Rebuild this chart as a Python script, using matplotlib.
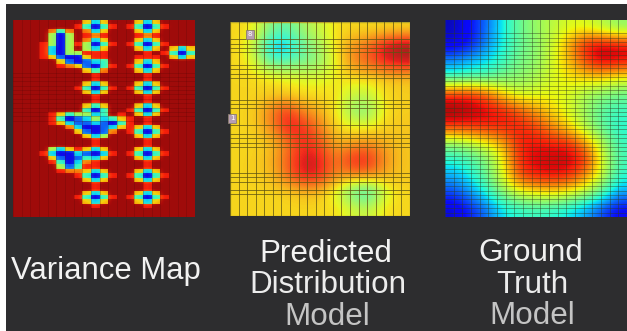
import numpy as np
from matplotlib import pyplot as plt
from matplotlib.patches import Rectangle

W, H = 627, 331

# variance map: one digit per cell, 0 = blue ... 9 = dark red (21 columns, 45 rows)
variance_rows = [
    "9999 999 9 636 9 9 9 636 9 999",
    "9999 999 8 414 8 9 8 414 8 999",
    "9999 747 9 736 9 9 9 636 9 999",
    "9999 515 9 878 9 9 9 878 9 999",
    "9999 515 9 736 9 9 9 636 9 999",
    "9998 515 8 514 8 9 8 414 8 999",
    "9998 315 9 536 9 9 9 636 9 636",
    "9998 315 5 888 9 9 9 989 8 414",
    "9998 621 1 688 9 9 9 888 9 636",
    "9999 962 1 234 9 9 9 636 9 999",
    "9999 987 6 214 8 9 8 414 8 999",
    "9999 999 9 647 9 9 9 636 9 999",
    "9999 999 9 989 9 9 9 989 9 999",
    "9999 999 9 989 9 9 9 989 9 999",
    "9999 999 9 636 9 9 9 636 9 999",
    "9999 999 8 414 8 9 8 414 8 999",
    "9999 999 9 636 9 9 9 636 9 999",
    "9999 999 9 989 9 9 9 989 9 999",
    "9999 999 9 989 9 9 9 989 9 999",
    "9999 999 9 646 9 9 9 636 9 999",
    "9999 999 9 414 9 9 8 414 8 999",
    "9999 864 5 534 9 8 9 636 9 999",
    "9999 841 2 353 4 6 8 989 9 999",
    "9999 863 2 232 1 4 8 989 9 999",
    "9999 997 3 112 3 6 8 636 9 999",
    "9999 999 6 212 7 9 8 414 8 999",
    "9999 999 9 635 9 9 9 636 9 999",
    "9999 999 9 989 9 9 9 989 9 999",
    "9999 999 9 989 9 9 9 989 9 999",
    "9999 536 8 636 9 9 9 636 9 999",
    "9998 311 3 213 8 9 8 414 8 999",
    "9999 621 2 436 9 9 9 636 9 999",
    "9999 841 3 789 9 9 9 989 9 999",
    "9999 952 4 889 9 9 9 989 9 999",
    "9999 987 7 636 9 9 9 636 9 999",
    "9999 999 8 414 8 9 8 414 8 999",
    "9999 999 9 636 9 9 9 636 9 999",
    "9999 999 9 989 9 9 9 989 9 999",
    "9999 999 9 989 9 9 9 989 9 999",
    "9999 999 9 636 9 9 9 636 9 999",
    "9999 999 8 414 8 9 8 414 8 999",
    "9999 999 9 636 9 9 9 636 9 999",
    "9999 999 9 989 9 9 9 989 9 999",
    "9999 999 9 999 9 9 9 999 9 999",
    "9999 999 9 999 9 9 9 999 9 999",
]
# position on the jet scale for each digit above
variance_levels = [0.0, 0.10, 0.22, 0.34, 0.41, 0.55, 0.69, 0.78, 0.88, 0.97]

predicted = [
    [.63, .60, .44, .40, .50, .55, .62, .63, .62, .63, .63],
    [.63, .53, .24, .24, .40, .49, .62, .72, .78, .90, .96],
    [.63, .57, .40, .40, .44, .46, .60, .73, .78, .86, .88],
    [.63, .63, .62, .60, .58, .58, .60, .62, .62, .64, .65],
    [.63, .63, .64, .64, .62, .62, .62, .54, .54, .63, .64],
    [.63, .64, .74, .84, .72, .68, .60, .46, .44, .62, .64],
    [.63, .64, .72, .87, .85, .74, .63, .60, .60, .64, .65],
    [.63, .63, .65, .74, .85, .80, .67, .70, .72, .68, .65],
    [.63, .64, .67, .78, .88, .87, .74, .86, .86, .72, .65],
    [.63, .64, .66, .76, .88, .86, .72, .74, .74, .68, .65],
    [.63, .63, .63, .64, .66, .66, .56, .38, .30, .56, .63],
    [.63, .63, .63, .63, .63, .63, .62, .56, .54, .62, .63],
]

ground_truth = [
    [.05, .12, .22, .36, .46, .52, .56, .60, .60, .55, .50],
    [.08, .12, .25, .36, .45, .50, .58, .72, .88, .91, .89],
    [.25, .30, .34, .40, .48, .50, .60, .68, .82, .92, .89],
    [.40, .42, .42, .48, .50, .54, .60, .64, .66, .66, .62],
    [.84, .85, .80, .66, .58, .60, .62, .60, .54, .50, .47],
    [.96, .93, .89, .87, .80, .72, .65, .60, .52, .44, .40],
    [.84, .85, .86, .86, .86, .82, .74, .65, .54, .44, .38],
    [.50, .55, .62, .70, .86, .87, .86, .86, .72, .56, .40],
    [.38, .42, .48, .62, .86, .89, .91, .91, .86, .60, .42],
    [.28, .36, .46, .60, .82, .87, .88, .86, .74, .58, .38],
    [.18, .26, .38, .50, .60, .64, .66, .62, .56, .45, .28],
    [.07, .14, .22, .34, .38, .40, .38, .34, .28, .18, .10],
]

# rows of the mesh where the predicted panel has its dark horizontal lines
predicted_lines = [4, 5, 6, 7, 10, 11, 12, 13, 18, 19, 20, 24, 26, 27, 28, 29, 35, 36, 37, 39, 40]
variance_lines = [12, 13, 14, 15, 16, 17, 18, 19, 20, 21, 22, 23]

labels = [
    ("Variance Map", 106, 271, "#f2f2f2", 22.3),
    ("Predicted", 326, 254, "#f2f2f2", 22.6),
    ("Distribution", 328, 285, "#ececec", 22.6),
    ("Model", 327, 317, "#c4c4c4", 22.6),
    ("Ground", 531, 253, "#f0f0f0", 22.6),
    ("Truth", 532, 285, "#ececec", 22.6),
    ("Model", 532, 316, "#c4c4c4", 22.6),
]

N_COLS, N_ROWS = 21, 45


def panel(fig, x0, y0, x1, y1):
    ax = fig.add_axes([x0 / W, 1 - y1 / H, (x1 - x0) / W, (y1 - y0) / H])
    ax.axis("off")
    return ax


def mesh(ax, rows, color, alpha, lw, verticals=True):
    if verticals:
        for c in range(N_COLS + 1):
            ax.plot([c / N_COLS] * 2, [0, 1], color=color, alpha=alpha, lw=lw, transform=ax.transAxes)
    for r in rows:
        ax.plot([0, 1], [1 - r / N_ROWS] * 2, color=color, alpha=alpha, lw=lw, transform=ax.transAxes)


def wash(ax, color, alpha):
    ax.add_patch(Rectangle((0, 0), 1, 1, fc=color, ec="none", alpha=alpha, transform=ax.transAxes))


fig = plt.figure(figsize=(W / 100, H / 100), dpi=100, facecolor="white")
bg = panel(fig, 6, 4, W, H)
bg.add_patch(Rectangle((0, 0), 1, 1, color="#2d2d2f", transform=bg.transAxes))

levels = np.array(variance_levels)
variance = np.array([[levels[int(ch)] for ch in row.replace(" ", "")] for row in variance_rows])
ax1 = panel(fig, 13, 20, 195, 217)
# blocky cells over a smoothed copy, the source frame is a little soft
ax1.imshow(variance, cmap="jet", vmin=0, vmax=1, aspect="auto", interpolation="bilinear")
ax1.imshow(variance, cmap="jet", vmin=0, vmax=1, aspect="auto", interpolation="nearest", alpha=0.8)
wash(ax1, "#a09080", 0.08)
mesh(ax1, [], "#5a0808", 0.3, 0.6)
mesh(ax1, variance_lines, "#4a0505", 0.3, 0.5, verticals=False)

ax2 = panel(fig, 230, 22, 410, 216)
ax2.imshow(predicted, cmap="jet", vmin=-0.05, vmax=0.95, aspect="auto", interpolation="bicubic")
wash(ax2, "#c8c8b0", 0.16)
mesh(ax2, predicted_lines, "#5e5312", 0.75, 0.7)
ax2.add_patch(Rectangle((0, 0), 1, 1, fill=False, ec="#b5a52a", lw=1, transform=ax2.transAxes))

ax3 = panel(fig, 445, 20, 627, 217)
ax3.imshow(ground_truth, cmap="jet", vmin=0, vmax=0.97, aspect="auto", interpolation="bicubic")
wash(ax3, "#a0a0a0", 0.06)
mesh(ax3, range(3, N_ROWS), "#2e3a1e", 0.5, 0.6)

# the two small pink markers on the predicted panel
for cx, cy, txt in [(250, 34, "8"), (232, 118, "1")]:
    fig.patches.append(Rectangle(((cx - 4) / W, 1 - (cy + 4.5) / H), 8 / W, 9 / H, transform=fig.transFigure,
                                 fc="#b79fb2", ec="#8a7d70", lw=0.6, figure=fig))
    fig.text(cx / W, 1 - cy / H, txt, fontsize=5, color="white", ha="center", va="center")

for text, x, y, color, size in labels:
    fig.text(x / W, 1 - y / H, text, fontsize=size, color=color, ha="center", va="center",
             family="Liberation Sans")

fig.savefig("out.png", dpi=100, facecolor=fig.get_facecolor())
